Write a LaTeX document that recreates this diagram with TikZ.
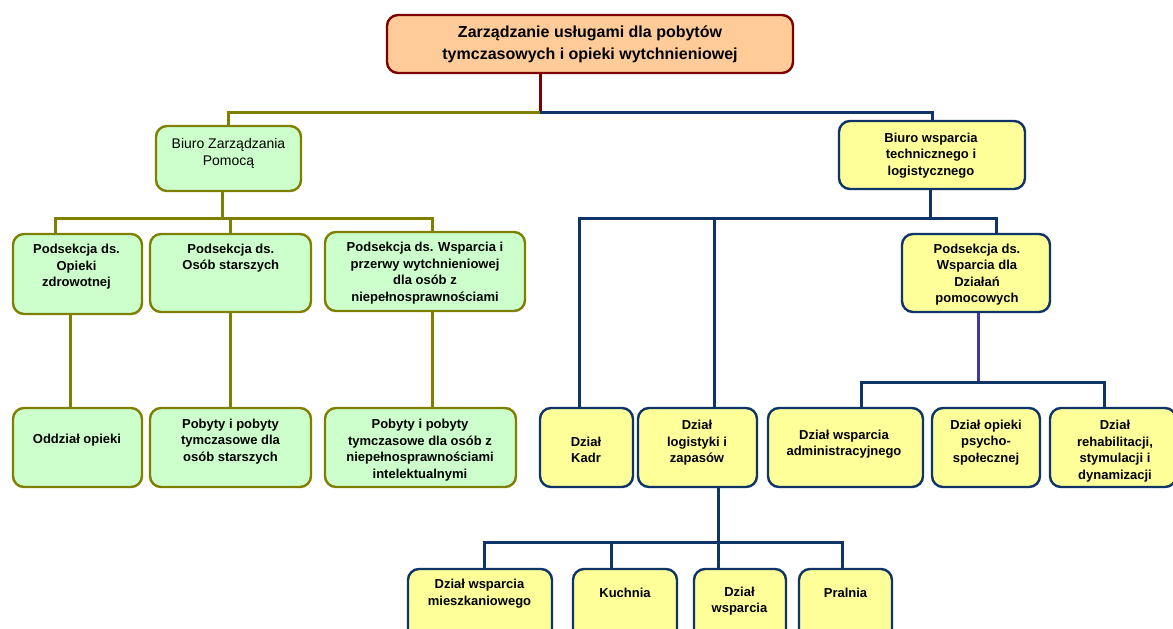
\documentclass[tikz,border=0pt]{standalone}
\usepackage{fontspec}
\setmainfont{Liberation Sans}
\definecolor{peach}{HTML}{FFCC99}
\definecolor{dred}{HTML}{800000}
\definecolor{mint}{HTML}{CCFFCC}
\definecolor{olivel}{HTML}{808000}
\definecolor{lyel}{HTML}{FFFF99}
\definecolor{navy}{HTML}{0F3468}
\definecolor{purp}{HTML}{3E38A0}
\begin{document}
\begin{tikzpicture}[x=1pt,y=-1pt,
  bx/.style={draw, rounded corners=11pt, line width=2.4pt, inner sep=0pt},
  topbox/.style={bx, fill=peach, draw=dred},
  gbox/.style={bx, fill=mint, draw=olivel},
  ybox/.style={bx, fill=lyel, draw=navy},
  txt/.style={align=center, inner sep=0pt, font=\fontsize{13}{16.5}\selectfont\bfseries},
  txtr/.style={align=center, inner sep=0pt, font=\fontsize{14}{16.5}\selectfont},
  txtbig/.style={align=center, inner sep=0pt, font=\fontsize{16}{22}\selectfont\bfseries},
  rline/.style={draw=dred, line width=3pt},
  oline/.style={draw=olivel, line width=3pt},
  nline/.style={draw=navy, line width=3pt},
  pline/.style={draw=purp, line width=3pt}]
\useasboundingbox (0,0) rectangle (1173,629);
\fill[white] (0,0) rectangle (1173,629);
\clip (0,0) rectangle (1173,629);

% boxes
\node[topbox, minimum width=406pt, minimum height=58pt] (top) at (590,44) {};
\node[gbox, minimum width=145pt, minimum height=65pt] (bzp) at (228.5,158.5) {};
\node[ybox, minimum width=186pt, minimum height=68pt] (bwt) at (932,155) {};
\node[gbox, minimum width=129pt, minimum height=80pt] (opz) at (77.5,274) {};
\node[gbox, minimum width=161pt, minimum height=78pt] (osz) at (230.5,273) {};
\node[gbox, minimum width=200pt, minimum height=79pt] (wsp) at (425,271.5) {};
\node[ybox, minimum width=148pt, minimum height=78pt] (pdz) at (976,273) {};
\node[gbox, minimum width=129pt, minimum height=79pt] (odd) at (77.5,447.5) {};
\node[gbox, minimum width=161pt, minimum height=79pt] (pst) at (230.5,447.5) {};
\node[gbox, minimum width=191pt, minimum height=79pt] (pni) at (420.5,447.5) {};
\node[ybox, minimum width=93pt, minimum height=79pt] (kadr) at (586.5,447.5) {};
\node[ybox, minimum width=119pt, minimum height=79pt] (log) at (697.5,447.5) {};
\node[ybox, minimum width=155pt, minimum height=79pt] (adm) at (845.5,447.5) {};
\node[ybox, minimum width=108pt, minimum height=79pt] (psy) at (986,447.5) {};
\node[ybox, minimum width=126pt, minimum height=79pt] (reh) at (1113,447.5) {};
\node[ybox, minimum width=144pt, minimum height=78pt] (mie) at (480,608) {};
\node[ybox, minimum width=104pt, minimum height=78pt] (kuch) at (625,608) {};
\node[ybox, minimum width=92pt, minimum height=78pt] (dws) at (740,608) {};
\node[ybox, minimum width=93pt, minimum height=78pt] (pra) at (845.5,608) {};

% texts
\node[txtbig] (top-t) at (590,44) {Zarządzanie usługami dla pobytów\\tymczasowych i opieki wytchnieniowej};
\node[txtr] (bzp-t) at (228.5,153.5) {Biuro Zarządzania\\Pomocą};
\node[txt] (bwt-t) at (931,155.5) {Biuro wsparcia\\technicznego i\\logistycznego};
\node[txt] (opz-t) at (76.5,266.7) {Podsekcja ds.\\Opieki\\zdrowotnej};
\node[txt] (osz-t) at (230.8,258.3) {Podsekcja ds.\\Osób starszych};
\node[txt] (wsp-t) at (425,273) {Podsekcja ds. Wsparcia i\\przerwy wytchnieniowej\\dla osób z\\niepełnosprawnościami};
\node[txt] (pdz-t) at (977,274.5) {Podsekcja ds.\\Wsparcia dla\\Działań\\pomocowych};
\node[txt] (odd-t) at (77,440) {Oddział opieki};
\node[txt] (pst-t) at (230.5,441.5) {Pobyty i pobyty\\tymczasowe dla\\osób starszych};
\node[txt] (pni-t) at (420,450) {Pobyty i pobyty\\tymczasowe dla osób z\\niepełnosprawnościami\\intelektualnymi};
\node[txt] (kadr-t) at (586,450) {Dział\\Kadr};
\node[txt] (log-t) at (697,442.8) {Dział\\logistyki i\\zapasów};
\node[txt] (adm-t) at (844,444) {Dział wsparcia\\administracyjnego};
\node[txt] (psy-t) at (986,442.4) {Dział opieki\\psycho-\\społecznej};
\node[txt] (reh-t) at (1115,451) {Dział\\rehabilitacji,\\stymulacji i\\dynamizacji};
\node[txt] (mie-t) at (479.5,593.5) {Dział wsparcia\\mieszkaniowego};
\node[txt] (kuch-t) at (625,593) {Kuchnia};
\node[txt] (dws-t) at (739.5,601) {Dział\\wsparcia};
\node[txt] (pra-t) at (845.5,593) {Pralnia};

% junction and drop coordinates
\coordinate (j0) at (540,112);
\coordinate (j1) at (222,218);
\coordinate (j2) at (930,218);
\coordinate (j3) at (978,382);
\coordinate (j4) at (718,542);
\coordinate (xa) at (55,0);
\coordinate (xb) at (432,0);
\coordinate (xc) at (70,0);
\coordinate (xd) at (579,0);
\coordinate (xe) at (714,0);
\coordinate (xf) at (996,0);
\coordinate (xg) at (861,0);
\coordinate (xh) at (1104,0);
\coordinate (xi) at (484,0);
\coordinate (xj) at (611,0);
\coordinate (xk) at (842,0);

% connectors
\draw[rline] (top.south -| j0) -- (j0);
\draw[oline] (j0) -| (bzp.north);
\draw[nline] (j0) -| (bwt.north);

\draw[oline] (bzp.south -| j1) -- (j1);
\draw[oline] (j1) -| (opz.north -| xa);
\draw[oline] (j1) -| (osz.north);
\draw[oline] (j1) -| (wsp.north -| xb);
\draw[oline] (opz.south -| xc) -- (odd.north -| xc);
\draw[oline] (osz.south) -- (pst.north);
\draw[oline] (wsp.south -| xb) -- (pni.north -| xb);

\draw[nline] (bwt.south -| j2) -- (j2);
\draw[nline] (j2) -| (kadr.north -| xd);
\draw[nline] (j2) -| (log.north -| xe);
\draw[nline] (j2) -| (pdz.north -| xf);

\draw[pline] (pdz.south -| j3) -- (j3);
\draw[nline] (j3) -| (adm.north -| xg);
\draw[nline] (j3) -| (reh.north -| xh);

\draw[nline] (log.south -| j4) -- (j4);
\draw[nline] (j4) -| (mie.north -| xi);
\draw[nline] (j4) -| (kuch.north -| xj);
\draw[nline] (j4) -- (dws.north -| j4);
\draw[nline] (j4) -| (pra.north -| xk);
\end{tikzpicture}
\end{document}
